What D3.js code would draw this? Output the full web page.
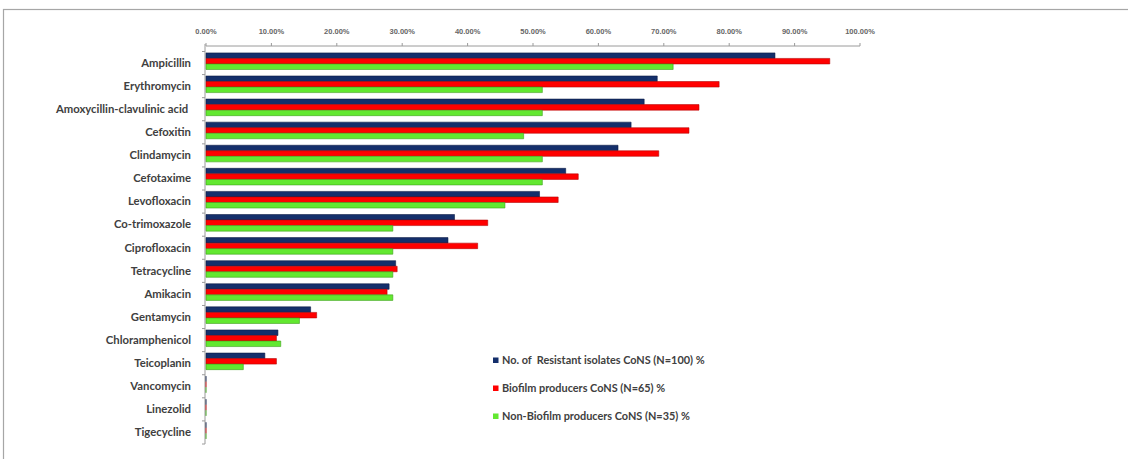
<!DOCTYPE html>
<html>
<head>
<meta charset="utf-8">
<script src="https://cdn.jsdelivr.net/npm/d3@7"></script>
<style>
  html, body { margin: 0; padding: 0; background: #fff; }
  svg { display: block; }
</style>
</head>
<body>
<svg id="chart" width="1128" height="459"></svg>
<script>
// Antibiotic resistance among CoNS isolates (percentages)
const categories = [
  "Ampicillin", "Erythromycin", "Amoxycillin-clavulinic acid ", "Cefoxitin",
  "Clindamycin", "Cefotaxime", "Levofloxacin", "Co-trimoxazole",
  "Ciprofloxacin", "Tetracycline", "Amikacin", "Gentamycin",
  "Chloramphenicol", "Teicoplanin", "Vancomycin", "Linezolid", "Tigecycline"
];
const resistantAll = [87, 69, 67, 65, 63, 55, 51, 38, 37, 29, 28, 16, 11, 9, 0, 0, 0];
const biofilm = [95.38, 78.46, 75.38, 73.85, 69.23, 56.92, 53.85, 43.08, 41.54, 29.23, 27.69, 16.92, 10.77, 10.77, 0, 0, 0];
const nonBiofilm = [71.43, 51.43, 51.43, 48.57, 51.43, 51.43, 45.71, 28.57, 28.57, 28.57, 28.57, 14.29, 11.43, 5.71, 0, 0, 0];
const seriesNames = [
  "No. of  Resistant isolates CoNS (N=100) %",
  "Biofilm producers CoNS (N=65) %",
  "Non-Biofilm producers CoNS (N=35) %"
];
const tickValues = [0, 10, 20, 30, 40, 50, 60, 70, 80, 90, 100];

const series = [resistantAll, biofilm, nonBiofilm];
const colors = ["#142f6b", "#ff0000", "#62e830"];
const strokes = ["#0a1a40", "#b00000", "#3a9a18"];

const svg = d3.select("#chart");

// outer frame
svg.append("rect")
  .attr("x", 3.5).attr("y", 9.5)
  .attr("width", 1140).attr("height", 460)
  .attr("fill", "none").attr("stroke", "#a6a6a6").attr("stroke-width", 1.2);

const x = d3.scaleLinear().domain([0, 100]).range([206, 860]);
const y = d3.scaleBand().domain(categories).range([51.5, 444]);
const bw = y.bandwidth();
const inner = d3.scaleBand().domain(d3.range(series.length))
  .range([bw * 0.06, bw * 0.78]);

// top value axis
const axisY = 46;
const gx = svg.append("g").attr("transform", `translate(0,${axisY})`);
gx.append("line")
  .attr("x1", x(0)).attr("x2", x(100))
  .attr("stroke", "#9a9a9a").attr("stroke-width", 1);
gx.selectAll("line.tick").data(tickValues).join("line")
  .attr("class", "tick")
  .attr("x1", d => x(d)).attr("x2", d => x(d))
  .attr("y1", 0).attr("y2", -3)
  .attr("stroke", "#9a9a9a");
gx.selectAll("text").data(tickValues).join("text")
  .attr("x", d => x(d)).attr("y", -12)
  .attr("text-anchor", "middle")
  .attr("font-family", "Liberation Sans, Arial, sans-serif")
  .attr("font-size", 7.5)
  .attr("font-weight", "bold")
  .attr("fill", "#666")
  .text(d => d3.format(".2f")(d) + "%");

// category axis
const gy = svg.append("g");
gy.append("line")
  .attr("x1", x(0) - 1).attr("x2", x(0) - 1)
  .attr("y1", axisY - 2).attr("y2", 444)
  .attr("stroke", "#9a9a9a");
const bounds = categories.map(c => y(c)).concat([444]);
gy.selectAll("line.tick").data(bounds).join("line")
  .attr("class", "tick")
  .attr("x1", x(0) - 4).attr("x2", x(0) - 1)
  .attr("y1", d => d).attr("y2", d => d)
  .attr("stroke", "#9a9a9a");
gy.selectAll("text").data(categories).join("text")
  .attr("x", 191)
  .attr("y", c => y(c) + bw / 2 + 3.8)
  .attr("text-anchor", "end")
  .attr("font-family", "Lato, sans-serif")
  .attr("font-weight", "bold")
  .attr("font-size", 11.3)
  .attr("fill", "#404040")
  .style("white-space", "pre")
  .text(c => c);

// bars (drawn as paths so zero values still show their outline)
const ih = inner.bandwidth();
series.forEach((vals, si) => {
  svg.append("g").selectAll("path").data(vals).join("path")
    .attr("d", (v, i) => {
      const x0 = x(0), x1 = x(v);
      const y0 = y(categories[i]) + inner(si);
      return `M${x0},${y0}H${x1}V${y0 + ih}H${x0}Z`;
    })
    .attr("fill", colors[si])
    .attr("stroke", strokes[si])
    .attr("stroke-width", 0.8)
    .attr("stroke-opacity", 0.7);
});

// legend
const legendRows = [360.5, 388.5, 416.5];
const lg = svg.append("g");
seriesNames.forEach((name, i) => {
  lg.append("rect")
    .attr("x", 493).attr("y", legendRows[i] - 3)
    .attr("width", 5.5).attr("height", 5.5)
    .attr("fill", colors[i]);
  lg.append("text")
    .attr("x", 502).attr("y", legendRows[i] + 3.5)
    .attr("font-family", "Lato, sans-serif")
    .attr("font-weight", "bold")
    .attr("font-size", 10.9)
    .attr("fill", "#404040")
    .style("white-space", "pre")
    .text(name);
});
</script>
</body>
</html>
